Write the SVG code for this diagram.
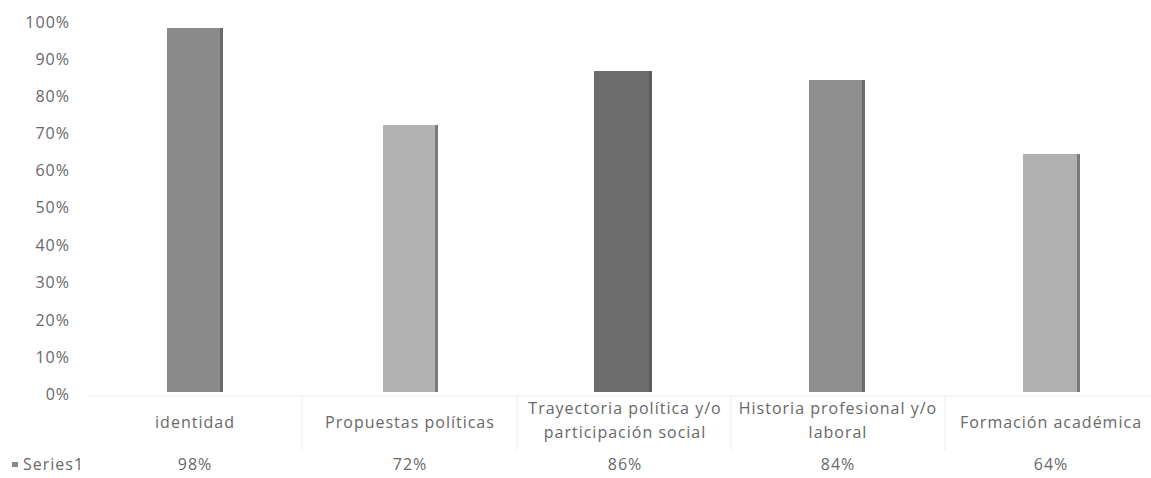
<svg xmlns="http://www.w3.org/2000/svg" width="1151" height="478" viewBox="0 0 1151 478">
<defs>
<style>
text{font-family:"Open Sans","Liberation Sans",sans-serif;font-size:16px;letter-spacing:1px;fill:#686868}
.ax{text-anchor:end}
.c{text-anchor:middle}
.grid{stroke:#ececec;stroke-width:1;fill:none}
.edge{fill:#505050;opacity:0.55}
</style>
</defs>
<rect width="1151" height="478" fill="#ffffff"/>
<g id="table" class="grid">
<line x1="88" y1="396" x2="1151" y2="396"/>
<line x1="302" y1="396" x2="302" y2="450"/>
<line x1="517" y1="396" x2="517" y2="450"/>
<line x1="731" y1="396" x2="731" y2="450"/>
<line x1="945" y1="396" x2="945" y2="450"/>
</g>
<g id="axis">
<text class="ax" x="70" y="28">100%</text>
<text class="ax" x="70" y="65">90%</text>
<text class="ax" x="70" y="102">80%</text>
<text class="ax" x="70" y="139">70%</text>
<text class="ax" x="70" y="176">60%</text>
<text class="ax" x="70" y="213">50%</text>
<text class="ax" x="70" y="251">40%</text>
<text class="ax" x="70" y="288">30%</text>
<text class="ax" x="70" y="326">20%</text>
<text class="ax" x="70" y="363">10%</text>
<text class="ax" x="70" y="400">0%</text>
</g>
<g id="bar1"><rect x="167" y="28" width="56" height="364" fill="#8a8a8a"/><rect class="edge" x="220" y="28" width="3" height="364"/></g>
<g id="bar2"><rect x="383" y="125" width="55" height="267" fill="#b2b2b2"/><rect class="edge" x="435" y="125" width="3" height="267"/></g>
<g id="bar3"><rect x="594" y="71" width="58" height="321" fill="#6c6c6c"/><rect class="edge" x="649" y="71" width="3" height="321"/></g>
<g id="bar4"><rect x="809" y="80" width="56" height="312" fill="#8e8e8e"/><rect class="edge" x="862" y="80" width="3" height="312"/></g>
<g id="bar5"><rect x="1023" y="154" width="57" height="238" fill="#b0b0b0"/><rect class="edge" x="1077" y="154" width="3" height="238"/></g>
<g id="categories">
<text class="c" x="195" y="428">identidad</text>
<text class="c" x="410" y="428">Propuestas políticas</text>
<text class="c" x="625" y="414">Trayectoria política y/o</text>
<text class="c" x="625" y="438">participación social</text>
<text class="c" x="838" y="414">Historia profesional y/o</text>
<text class="c" x="838" y="438">laboral</text>
<text class="c" x="1051" y="428">Formación académica</text>
</g>
<g id="legend">
<rect x="12" y="462" width="6" height="5" fill="#8a8a8a"/>
<text x="23" y="470">Series1</text>
</g>
<g id="values">
<text class="c" x="195" y="470">98%</text>
<text class="c" x="410" y="470">72%</text>
<text class="c" x="625" y="470">86%</text>
<text class="c" x="838" y="470">84%</text>
<text class="c" x="1051" y="470">64%</text>
</g>
</svg>
